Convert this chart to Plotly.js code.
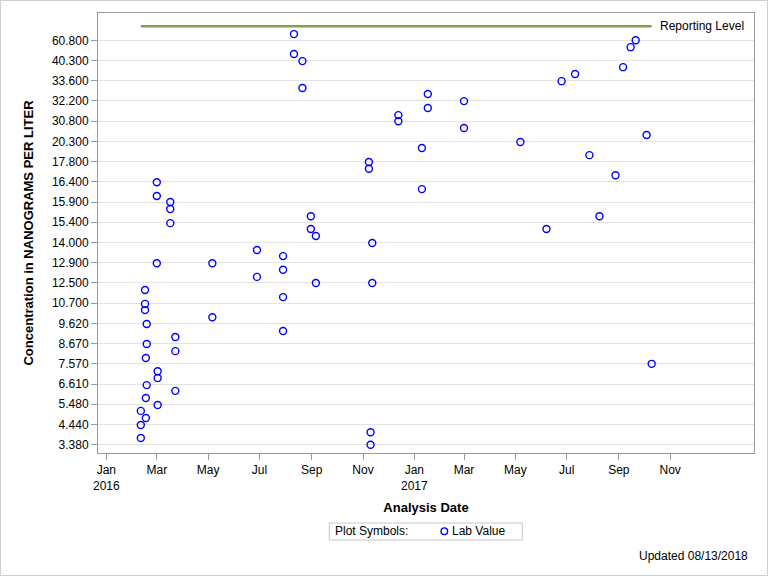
<!DOCTYPE html>
<html>
<head>
<meta charset="utf-8">
<script src="https://cdn.plot.ly/plotly-3.0.1.min.js"></script>
<style>
  html, body { margin: 0; padding: 0; background: #fff; }
  #wrap { position: relative; width: 768px; height: 576px; }
  #chart { position: absolute; left: 0; top: 0; width: 768px; height: 576px; }
  #frame { position: absolute; left: 0; top: 0; width: 768px; height: 576px;
           box-sizing: border-box; border: 1px solid #cfcfcf; pointer-events: none; }
</style>
</head>
<body>
<div id="wrap"><div id="chart"></div><div id="frame"></div></div>
<script>
// ---- Axis tick values (the y axis is ordinal: ticks evenly spaced) ----
const yTickValues = [3.38, 4.44, 5.48, 6.61, 7.57, 8.67, 9.62, 10.7, 12.5, 12.9, 14.0,
                     15.4, 15.9, 16.4, 17.8, 20.3, 30.8, 32.2, 33.6, 40.3, 60.8];
const yTickLabels = ['3.380', '4.440', '5.480', '6.610', '7.570', '8.670', '9.620', '10.700',
                     '12.500', '12.900', '14.000', '15.400', '15.900', '16.400', '17.800',
                     '20.300', '30.800', '32.200', '33.600', '40.300', '60.800'];
const xTickDates  = ['2016-01-01', '2016-03-01', '2016-05-01', '2016-07-01', '2016-09-01', '2016-11-01',
                     '2017-01-01', '2017-03-01', '2017-05-01', '2017-07-01', '2017-09-01', '2017-11-01'];
const xTickLabels = ['Jan<br>2016', 'Mar', 'May', 'Jul', 'Sep', 'Nov',
                     'Jan<br>2017', 'Mar', 'May', 'Jul', 'Sep', 'Nov'];

// ---- Lab values ----
const sampleDates = [
  '2016-02-11', '2016-02-11', '2016-02-11',
  '2016-02-16', '2016-02-16', '2016-02-16',
  '2016-02-17', '2016-02-17', '2016-02-17',
  '2016-02-18', '2016-02-18', '2016-02-18',
  '2016-03-01', '2016-03-01', '2016-03-01',
  '2016-03-02', '2016-03-02', '2016-03-02',
  '2016-03-17', '2016-03-17', '2016-03-17',
  '2016-03-23', '2016-03-23', '2016-03-23',
  '2016-05-06', '2016-05-06',
  '2016-06-28', '2016-06-28',
  '2016-07-29', '2016-07-29', '2016-07-29', '2016-07-29',
  '2016-08-11', '2016-08-11',
  '2016-08-21', '2016-08-21',
  '2016-08-31', '2016-08-31',
  '2016-09-06', '2016-09-06',
  '2016-11-08', '2016-11-08',
  '2016-11-12', '2016-11-12',
  '2016-11-10', '2016-11-10',
  '2016-12-13', '2016-12-13',
  '2017-01-10', '2017-01-10',
  '2017-01-17', '2017-01-17',
  '2017-03-01', '2017-03-01',
  '2017-05-07', '2017-06-07', '2017-06-25', '2017-07-11', '2017-07-28', '2017-08-09',
  '2017-08-28', '2017-09-06', '2017-09-15', '2017-09-21', '2017-10-04', '2017-10-10'
];
const labValues = [
  5.14, 4.41, 3.73,
  11.87, 10.66, 10.33,
  7.89, 5.83, 4.77,
  9.59, 8.65, 6.55,
  16.39, 16.05, 12.89,
  7.22, 6.90, 5.44,
  15.90, 15.73, 15.34,
  8.98, 8.26, 6.23,
  12.89, 9.95,
  13.59, 12.62,
  13.26, 12.76, 11.24, 9.26,
  67.1, 46.86,
  40.1, 33.1,
  15.55, 14.94,
  14.45, 12.50,
  17.77, 17.31,
  13.97, 12.50,
  4.03, 3.38,
  31.22, 30.80,
  19.48, 16.22,
  32.68, 31.71,
  32.19, 27.23,
  20.22, 14.94, 33.57, 35.81, 18.60, 15.55,
  16.86, 38.10, 53.83, 60.80, 23.66, 7.57
];
const reportingLevel = 75;

// map a concentration onto the ordinal axis position (piecewise linear between ticks)
function toPos(v) {
  const T = yTickValues, n = T.length;
  if (v <= T[0]) return (v - T[0]) / (T[1] - T[0]);
  if (v >= T[n - 1]) return (n - 1) + (v - T[n - 1]) / (T[n - 1] - T[n - 2]);
  for (let i = 0; i < n - 1; i++) {
    if (v >= T[i] && v <= T[i + 1]) return i + (v - T[i]) / (T[i + 1] - T[i]);
  }
}

const sorted = sampleDates.slice().sort();
const firstDate = sorted[0], lastDate = sorted[sorted.length - 1];

const font = 'Liberation Sans, Arial, sans-serif';

const traces = [
  {
    x: [firstDate, lastDate],
    y: [toPos(reportingLevel), toPos(reportingLevel)],
    mode: 'lines',
    line: { color: '#81a04a', width: 2.5 },
    showlegend: false,
    hoverinfo: 'skip'
  },
  {
    x: sampleDates,
    y: labValues.map(toPos),
    text: labValues.map(v => v.toFixed(3)),
    mode: 'markers',
    name: 'Lab Value',
    showlegend: false,
    marker: { symbol: 'circle-open', size: 7, color: '#0000ff', line: { width: 1.4, color: '#0000ff' } }
  }
];

// legend glyph geometry (paper units of the plot area: 656 x 440 px)
const legY = -0.1777;
const glyphCx = 0.5279, glyphRx = 3.3 / 656, glyphRy = 3.3 / 440;

const layout = {
  width: 768, height: 576,
  margin: { l: 98, r: 14, t: 13, b: 123 },
  paper_bgcolor: '#ffffff', plot_bgcolor: '#ffffff',
  font: { family: font, size: 12, color: '#000' },
  showlegend: false,
  xaxis: {
    type: 'date',
    range: ['2015-12-22 03:00', '2018-02-08 14:00'],
    tickvals: xTickDates, ticktext: xTickLabels,
    ticks: 'outside', ticklen: 6, tickcolor: '#999', tickwidth: 1,
    showgrid: false, zeroline: false,
    showline: true, mirror: true, linecolor: '#999', linewidth: 1,
    tickfont: { family: font, size: 12, color: '#000' },
    title: { text: 'Analysis Date', font: { family: font, size: 13, color: '#000', weight: 'bold' }, standoff: 10 }
  },
  yaxis: {
    range: [-0.41, 21.35],
    tickvals: yTickValues.map((v, i) => i), ticktext: yTickLabels,
    ticks: 'outside', ticklen: 6, tickcolor: '#999', tickwidth: 1,
    showgrid: true, gridcolor: '#e3e3e3', gridwidth: 1, zeroline: false,
    showline: true, mirror: true, linecolor: '#999', linewidth: 1,
    tickfont: { family: font, size: 12, color: '#000' },
    title: { text: 'Concentration in NANOGRAMS PER LITER', font: { family: font, size: 13, color: '#000', weight: 'bold' }, standoff: 15 }
  },
  shapes: [
    {
      type: 'rect', xref: 'paper', yref: 'paper',
      x0: 0.3526, x1: 0.6468, y0: -0.1591, y1: -0.1977,
      line: { color: '#c8c8c8', width: 1 }, fillcolor: 'rgba(0,0,0,0)'
    },
    {
      type: 'circle', xref: 'paper', yref: 'paper',
      x0: glyphCx - glyphRx, x1: glyphCx + glyphRx, y0: legY - glyphRy, y1: legY + glyphRy,
      line: { color: '#0000ff', width: 1.4 }, fillcolor: 'rgba(0,0,0,0)'
    }
  ],
  annotations: [
    {
      x: lastDate, y: toPos(reportingLevel), xref: 'x', yref: 'y',
      text: 'Reporting Level', showarrow: false, xanchor: 'left', xshift: 6,
      font: { family: font, size: 12, color: '#000' }
    },
    {
      x: 0.358, y: legY, xref: 'paper', yref: 'paper',
      text: 'Plot Symbols:', showarrow: false, xanchor: 'left', yanchor: 'middle',
      font: { family: font, size: 12, color: '#000' }
    },
    {
      x: 0.5365, y: legY, xref: 'paper', yref: 'paper',
      text: 'Lab Value', showarrow: false, xanchor: 'left', yanchor: 'middle',
      font: { family: font, size: 12, color: '#000' }
    },
    {
      x: 0.994, y: -0.2334, xref: 'paper', yref: 'paper',
      text: 'Updated 08/13/2018', showarrow: false, xanchor: 'right', yanchor: 'middle',
      font: { family: font, size: 12, color: '#000' }
    }
  ]
};

Plotly.newPlot('chart', traces, layout, { displayModeBar: false, staticPlot: true });
</script>
</body>
</html>
